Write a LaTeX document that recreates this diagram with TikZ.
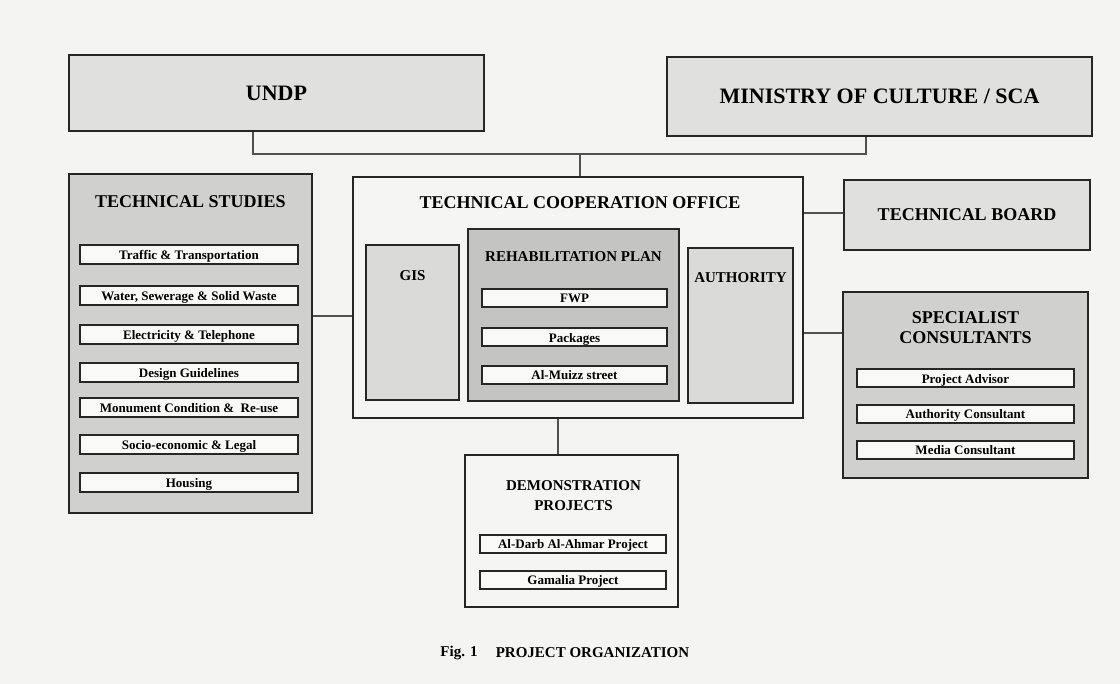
\documentclass[tikz,border=0pt]{standalone}
\usepackage{fontspec}
\setmainfont{Liberation Serif}
\usetikzlibrary{positioning,calc}
\definecolor{pagecolor}{RGB}{244, 244, 242}
\definecolor{edgecolor}{RGB}{38, 38, 38}
\definecolor{linkcolor}{RGB}{80, 80, 80}
\definecolor{topcolor}{RGB}{224, 224, 222}
\definecolor{groupcolor}{RGB}{208, 208, 206}
\definecolor{officecolor}{RGB}{245, 245, 243}
\definecolor{unitcolor}{RGB}{218, 218, 216}
\definecolor{plancolor}{RGB}{196, 196, 194}
\definecolor{itemcolor}{RGB}{249, 249, 247}

\begin{document}
\begin{tikzpicture}[x=1pt, y=-1pt,
                box/.style={rectangle, draw=edgecolor, line width=2.8pt, inner sep=0pt},
                item/.style={rectangle, draw=edgecolor, line width=2pt, fill=itemcolor, inner sep=0pt,
                    minimum height=19pt, text height=10.5pt, text depth=1pt,
                    font=\bfseries\fontsize{13}{14}\selectfont},
                big/.style={font=\bfseries\fontsize{22}{24}\selectfont},
                head/.style={font=\bfseries\fontsize{18}{20}\selectfont, align=center},
                subhead/.style={font=\bfseries\fontsize{15}{20}\selectfont, align=center},
                link/.style={draw=linkcolor, line width=1.8pt}]

                \useasboundingbox[fill=pagecolor] (0,0) rectangle (1120,684);

                % Top
                \node[box, big, fill=topcolor, minimum width=415pt, minimum height=76pt] (undp) at (276.5,93) {UNDP};
                \node[box, big, fill=topcolor, minimum width=425pt, minimum height=79pt] (moc) at (879.5,96.5) {MINISTRY OF CULTURE / SCA};

                % Technical studies
                \node[box, fill=groupcolor, minimum width=243pt, minimum height=339pt] (ts) at (190.5,343.5) {};
                \node[head] (tshead) at (190.5,202) {TECHNICAL STUDIES};
                \foreach \y/\t [count=\i] in {255/Traffic \& Transportation, 295.5/{Water, Sewerage \& Solid Waste},
                    335/Electricity \& Telephone, 372.5/Design Guidelines, 408/Monument Condition \&\ \ Re-use,
                    445/Socio-economic \& Legal, 482.5/Housing} {
                    \node[item, minimum width=218pt] (ts\i) at (189,\y) {\t};
                }

                % Office
                \node[box, fill=officecolor, minimum width=450pt, minimum height=241pt] (tco) at (578,297.5) {};
                \node[head] (tcohead) at (580,203) {TECHNICAL COOPERATION OFFICE};
                \node[box, fill=unitcolor, minimum width=93pt, minimum height=155pt] (gis) at (412.5,322.5) {};
                \node[subhead] (gishead) at (412.5,276) {GIS};
                \node[box, fill=plancolor, minimum width=211pt, minimum height=172pt] (rp) at (573.5,315) {};
                \node[subhead] (rphead) at (573.5,257) {REHABILITATION PLAN};
                \foreach \y/\t [count=\i] in {298/FWP, 337.5/Packages, 375/Al-Muizz street} {
                    \node[item, minimum width=185pt, minimum height=18pt] (rp\i) at (574.5,\y) {\t};
                }
                \node[box, fill=unitcolor, minimum width=105pt, minimum height=155pt] (auth) at (740.5,325.5) {};
                \node[subhead] (authhead) at (740.5,278) {AUTHORITY};

                % Right
                \node[box, head, fill=topcolor, minimum width=246pt, minimum height=70pt] (tb) at (967,215) {TECHNICAL BOARD};
                \node[box, fill=groupcolor, minimum width=245pt, minimum height=186pt] (sc) at (965.5,385) {};
                \node[head] (schead) at (965.5,328) {SPECIALIST\\CONSULTANTS};
                \foreach \y/\t [count=\i] in {378.5/Project Advisor, 414/Authority Consultant, 450/Media Consultant} {
                    \node[item, minimum width=217pt, minimum height=18pt] (sc\i) at (965.5,\y) {\t};
                }

                % Demonstration
                \node[box, fill=officecolor, minimum width=213pt, minimum height=152pt] (dp) at (571.5,531) {};
                \node[subhead] (dphead) at (573.5,495.5) {DEMONSTRATION\\PROJECTS};
                \foreach \y/\t [count=\i] in {544/Al-Darb Al-Ahmar Project, 580/Gamalia Project} {
                    \node[item, minimum width=186pt, minimum height=18pt] (dp\i) at (573,\y) {\t};
                }

                % Caption
                \node[subhead] (fig) at (459,653) {Fig. 1};
                \node[subhead] (title) at (592.5,653) {PROJECT ORGANIZATION};

                % Connections
                \coordinate (busL) at (253,154);
                \coordinate (busM) at (580,154);
                \coordinate (busR) at (866,154);
                \draw[link] (undp.south -| busL) -- (busL) -- (busR) -- (moc.south -| busR);
                \draw[link] (busM) -- (tco.north -| busM);
                \draw[link] (ts.east |- 0,316) -- (tco.west |- 0,316);
                \draw[link] (tco.east |- 0,213) -- (tb.west |- 0,213);
                \draw[link] (tco.east |- 0,333) -- (sc.west |- 0,333);
                \draw[link] (tco.south -| 558,0) -- (dp.north -| 558,0);

            \end{tikzpicture}
\end{document}
